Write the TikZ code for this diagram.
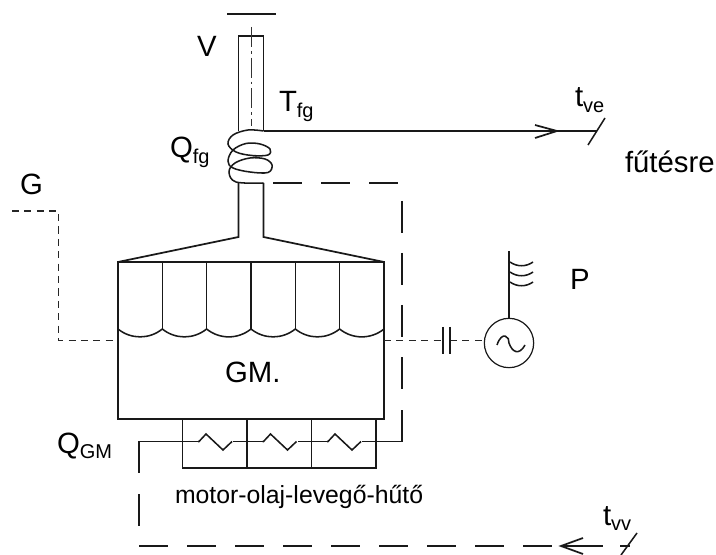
\documentclass[tikz,border=0pt]{standalone}
\usepackage{fontspec}
\setmainfont{Liberation Sans}
\newcommand{\sbs}[1]{\raisebox{-0.2em}{\fontsize{15}{15}\selectfont #1}}
\tikzset{
  x=0.75pt,y=-0.75pt,
  lbl/.style={anchor=base west,inner sep=0pt,outer sep=0pt,font=\fontsize{22}{24}\selectfont},
  ln/.style={line width=1.15pt,black!90},
  thick line/.style={line width=1.3pt,black!90},
  longdash/.style={line width=1.15pt,black!90,dash pattern=on 22pt off 14pt},
  vdash/.style={line width=1.15pt,black!90,dash pattern=on 24pt off 15pt},
  shortdash/.style={line width=1.15pt,black!85,dash pattern=on 5.3pt off 4pt},
  axisline/.style={line width=0.6pt,black!80,dash pattern=on 15pt off 3pt on 2pt off 3pt},
}
\begin{document}
\begin{tikzpicture}
\useasboundingbox (0,0) rectangle (716,555);
% named points
\coordinate (gTL) at (118,262); \coordinate (gTR) at (384,262);
\coordinate (gBL) at (118,419); \coordinate (gBR) at (384,419);
\coordinate (sTL) at (238.5,36); \coordinate (sTR) at (263.5,36);
\coordinate (sBL) at (238.5,237); \coordinate (sBR) at (263.5,237);
% stack (interrupted by the coil)
\draw[thick line] (238.5,131) -- (sTL) -- (sTR) -- (263.5,131);
\draw[thick line] (238.5,183) -- (sBL) -- (gTL);
\draw[thick line] (263.5,183) -- (sBR) -- (gTR);
\draw[thick line] (227,14) -- (276,14);
\draw[axisline] (251,27) -- (251,126);
% engine
\draw[thick line] (gTL) rectangle (gBR);
\foreach \x in {162.3,206.6,251,295.3,339.6}{\draw[ln] (\x,262) -- (\x,329);}
\draw[ln] (118,329) foreach \a/\b in {118/162.3,162.3/206.6,206.6/251,251/295.3,295.3/339.6,339.6/384}{
  .. controls (\a+13,339.5) and (\b-13,339.5) .. (\b,329)};
% coil
\draw[ln] plot[smooth,tension=0.6] coordinates {
 (263.5,131) (248,130) (233,135) (228,144) (236,152) (252,155.5) (268,155) (270,149) (260,144) (246,143.5)
 (233,150) (228,161) (233,168) (250,172) (268,172.5) (272,165) (265,159) (250,158) (235,163) (229,172) (236,182) (263.5,183)};
% hot water
\coordinate (hotA) at (263.5,131); \coordinate (hotB) at (597,131);
\draw[ln] (hotA) -- (hotB);
\draw[ln,line width=1.3pt] (535,125) -- (557,131) -- (535,138);
\draw[ln] (588,145) -- (605,118);
% return / cooling loop
\draw[longdash] (273,183) -- (402,183);
\draw[vdash] (402,201) -- (402,390);
\draw[ln] (402,410) -- (402,441.5) -- (139,441.5) -- (139,473);
\draw[vdash] (139,494) -- (139,526);
\draw[longdash,dash pattern=on 21.9pt off 14.1pt] (139,546) -- (555,546);
% exchanger
\draw[ln] (182.5,419) -- (182.5,468) -- (376,468) -- (376,419);
\draw[ln] (247,419) -- (247,468) (311.5,419) -- (311.5,468);
\foreach \x in {199,263.5,328}{
 \fill[white] (\x-1,437) rectangle (\x+34,452.5);
 \draw[ln] (\x-1,441.5) -- (\x,441.5) -- (\x+7,434) -- (\x+24,450) -- (\x+33,441.5);}
% arrow return
\draw[ln,line width=1.3pt] (583,538) -- (561,546) -- (583,554);
\draw[ln] (561,546) -- (603,546);
\draw[ln] (620,546) -- (630,546);
\draw[ln] (621,555) -- (637,533);
% gas
\draw[shortdash] (12,211) -- (58.5,211) -- (58.5,340.5) -- (118,340.5);
\draw[shortdash] (384,340.5) -- (443,340.5);
\draw[shortdash] (450,340.5) -- (485,340.5);
\draw[thick line] (443,327) -- (443,354) (450,327) -- (450,354);
% generator
\node[draw,circle,line width=0.9pt,black!90,minimum size=37pt,inner sep=0pt] (gen) at (509,343) {};
\draw[ln] (gen.north) -- (509,251);
\foreach \y in {262,272,282}{\draw[ln] (510,\y) .. controls (517,\y+5) and (526,\y+5) .. (533,\y);}
\draw[ln] (497,345) .. controls (502,330) and (510,337) .. (509,343) .. controls (512,352) and (519,356) .. (525,345);
% labels
\node[lbl] (V) at (197,56.5) {V};
\node[lbl] (Tfg) at (279,112) {T\sbs{fg}};
\node[lbl] (Qfg) at (170,158) {Q\sbs{fg}};
\node[lbl] (G) at (20,195) {G};
\node[lbl] (P) at (570,290) {P};
\node[lbl] (GM) at (225,382) {GM.};
\node[lbl] (QGM) at (57,453) {Q\sbs{GM}};
\node[lbl,font=\fontsize{18.6}{20}\selectfont] (olaj) at (175,503) {motor-olaj-levegő-hűtő};
\node[lbl] (tve) at (575,107) {t\sbs{ve}};
\node[lbl] (tvv) at (603,525) {t\sbs{vv}};
\node[lbl] (fut) at (625,173) {fűtésre};
\end{tikzpicture}
\end{document}
